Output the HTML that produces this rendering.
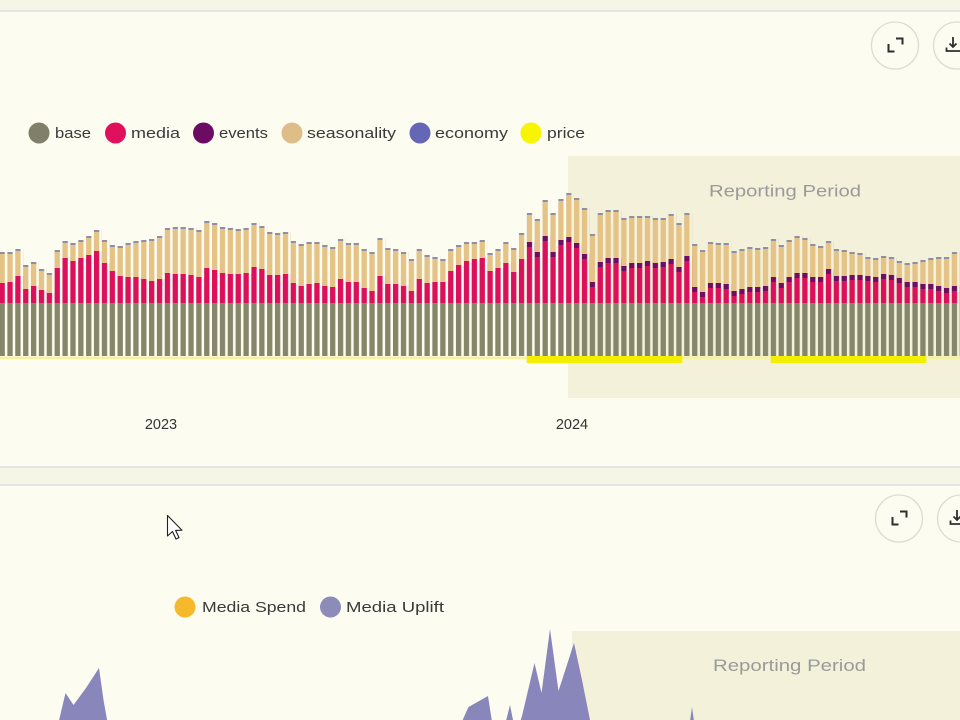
<!DOCTYPE html>
<html>
<head>
<meta charset="utf-8">
<style>
  html,body{margin:0;padding:0;background:#f6f6e7;}
  body{width:960px;height:720px;overflow:hidden;}
  svg{display:block;}
  text{font-family:"Liberation Sans",sans-serif;}
</style>
</head>
<body>
<svg width="960" height="720" viewBox="0 0 960 720" xmlns="http://www.w3.org/2000/svg" xmlns:xlink="http://www.w3.org/1999/xlink">
  <defs>
    <pattern id="stripes" patternUnits="userSpaceOnUse" x="-0.5" y="0" width="7.87" height="720">
      <rect x="0" y="0" width="5.3" height="720" fill="#ffffff"/>
    </pattern>
    <mask id="mk" maskUnits="userSpaceOnUse" x="-2" y="0" width="964" height="720">
      <rect x="-2" y="0" width="964" height="720" fill="url(#stripes)"/>
    </mask>
    <!-- total top (T) -->
    <path id="P" d="M-0.5 303V252h7.87V252h7.87V249h7.87V265h7.87V262h7.87V269h7.87V273h7.87V250h7.87V241h7.87V243h7.87V240h7.87V236h7.87V230h7.87V240h7.87V245h7.87V246h7.87V243h7.87V241h7.87V240h7.87V239h7.87V236h7.87V228h7.87V227h7.87V227h7.87V228h7.87V230h7.87V221h7.87V223h7.87V227h7.87V228h7.87V229h7.87V228h7.87V223h7.87V226h7.87V232h7.87V233h7.87V232h7.87V241h7.87V244h7.87V242h7.87V242h7.87V245h7.87V247h7.87V239h7.87V243h7.87V243h7.87V249h7.87V252h7.87V238h7.87V248h7.87V249h7.87V252h7.87V259h7.87V249h7.87V255h7.87V257h7.87V259h7.87V249h7.87V245h7.87V242h7.87V242h7.87V240h7.87V253h7.87V249h7.87V242h7.87V248h7.87V233h7.87V213h7.87V219h7.87V200h7.87V213h7.87V199h7.87V193h7.87V198h7.87V208h7.87V234h7.87V213h7.87V210h7.87V210h7.87V218h7.87V216h7.87V216h7.87V216h7.87V218h7.87V218h7.87V214h7.87V223h7.87V213h7.87V244h7.87V250h7.87V242h7.87V243h7.87V243h7.87V251h7.87V249h7.87V247h7.87V248h7.87V247h7.87V239h7.87V245h7.87V240h7.87V236h7.87V238h7.87V244h7.87V246h7.87V241h7.87V249h7.87V250h7.87V252h7.87V253h7.87V257h7.87V258h7.87V256h7.87V257h7.87V261h7.87V263h7.87V262h7.87V260h7.87V258h7.87V257h7.87V257h7.87V252h7.87V303Z"/>
    <!-- events top for bars 67-121 -->
    <path id="E" d="M526.79 303V242h7.87V252h7.87V236h7.87V252h7.87V240h7.87V237h7.87V243h7.87V254h7.87V282h7.87V262h7.87V258h7.87V258h7.87V266h7.87V263h7.87V263h7.87V261h7.87V263h7.87V262h7.87V259h7.87V267h7.87V256h7.87V287h7.87V292h7.87V283h7.87V283h7.87V284h7.87V291h7.87V289h7.87V287h7.87V287h7.87V286h7.87V277h7.87V283h7.87V277h7.87V273h7.87V273h7.87V277h7.87V277h7.87V269h7.87V276h7.87V276h7.87V275h7.87V275h7.87V276h7.87V277h7.87V274h7.87V275h7.87V278h7.87V282h7.87V282h7.87V284h7.87V284h7.87V286h7.87V288h7.87V286h7.87V303Z"/>
  </defs>

  <!-- page background -->
  <rect x="0" y="0" width="960" height="720" fill="#f6f6e7"/>
  <!-- card 1 -->
  <rect x="-2" y="11" width="964" height="456" fill="#fcfcf0" stroke="#d8d8de" stroke-width="1.2"/>
  <!-- card 2 -->
  <rect x="-2" y="485" width="964" height="245" fill="#fcfcf0" stroke="#d8d8de" stroke-width="1.2"/>

  <!-- card 1 buttons -->
  <circle cx="895" cy="45.5" r="23.5" fill="none" stroke="#dcdcd2" stroke-width="1.3"/>
  <path d="M896 38.5H902.5V44.5 M888.5 44V51.5H894.5" fill="none" stroke="#2e2e2e" stroke-width="2"/>
  <circle cx="957" cy="45.5" r="23.5" fill="none" stroke="#dcdcd2" stroke-width="1.3"/>
  <path d="M953 37v10 M949.5 43.5l3.5 3.5 3.5-3.5 M946.5 47.5v3.5h14" fill="none" stroke="#2e2e2e" stroke-width="1.8"/>

  <!-- legend 1 -->
  <circle cx="39" cy="133" r="10.5" fill="#7f7f6a"/>
  <text x="55" y="138" font-size="15" fill="#3a3a3a" textLength="36" lengthAdjust="spacingAndGlyphs">base</text>
  <circle cx="115.5" cy="133" r="10.5" fill="#e0105c"/>
  <text x="131" y="138" font-size="15" fill="#3a3a3a" textLength="49" lengthAdjust="spacingAndGlyphs">media</text>
  <circle cx="203.5" cy="133" r="10.5" fill="#6d0a63"/>
  <text x="219" y="138" font-size="15" fill="#3a3a3a" textLength="49" lengthAdjust="spacingAndGlyphs">events</text>
  <circle cx="292" cy="133" r="10.5" fill="#dfbd88"/>
  <text x="307" y="138" font-size="15" fill="#3a3a3a" textLength="89" lengthAdjust="spacingAndGlyphs">seasonality</text>
  <circle cx="420" cy="133" r="10.5" fill="#6666b6"/>
  <text x="435" y="138" font-size="15" fill="#3a3a3a" textLength="73" lengthAdjust="spacingAndGlyphs">economy</text>
  <circle cx="531" cy="133" r="10.5" fill="#f7f500"/>
  <text x="547" y="138" font-size="15" fill="#3a3a3a" textLength="38" lengthAdjust="spacingAndGlyphs">price</text>

  <!-- reporting period 1 -->
  <rect x="568" y="156" width="400" height="242" fill="#f3f1d9"/>
  <text x="709" y="196.5" font-size="17" fill="#9a9a9a" textLength="152" lengthAdjust="spacingAndGlyphs">Reporting Period</text>

  <!-- price bands -->
  <rect x="0" y="356.5" width="960" height="2.6" fill="#f6f39c"/>
  <rect x="526.79" y="356" width="155.5" height="7" fill="#f4ef00"/>
  <rect x="770.76" y="356" width="155.5" height="7" fill="#f4ef00"/>

  <!-- stacked bars -->
  <g mask="url(#mk)">
    <use href="#P" xlink:href="#P" fill="#8e8ea4"/>
    <use href="#P" xlink:href="#P" y="2" fill="#e5c386"/>
    <use href="#E" xlink:href="#E" fill="#6e0d62"/>
    <use href="#E" xlink:href="#E" y="5" fill="#dc0f5c"/>
    <path fill="#dc0f5c" d="M-0.5 303V283h7.87V282h7.87V276h7.87V289h7.87V286h7.87V290h7.87V293h7.87V268h7.87V258h7.87V261h7.87V258h7.87V255h7.87V251h7.87V263h7.87V271h7.87V276h7.87V277h7.87V277h7.87V279h7.87V281h7.87V279h7.87V273h7.87V274h7.87V274h7.87V275h7.87V277h7.87V268h7.87V270h7.87V273h7.87V274h7.87V274h7.87V273h7.87V267h7.87V269h7.87V275h7.87V275h7.87V274h7.87V283h7.87V286h7.87V284h7.87V283h7.87V286h7.87V287h7.87V279h7.87V282h7.87V282h7.87V288h7.87V291h7.87V276h7.87V284h7.87V284h7.87V286h7.87V291h7.87V279h7.87V283h7.87V282h7.87V282h7.87V271h7.87V265h7.87V261h7.87V259h7.87V258h7.87V271h7.87V268h7.87V263h7.87V272h7.87V259h7.87V303Z"/>
    <rect x="-0.5" y="303" width="961" height="53" fill="#86866a"/>
  </g>

  <!-- year labels -->
  <text x="161" y="429" font-size="14.5" fill="#333" text-anchor="middle">2023</text>
  <text x="572" y="429" font-size="14.5" fill="#333" text-anchor="middle">2024</text>

  <!-- card 2 buttons -->
  <circle cx="899" cy="518.5" r="23.5" fill="none" stroke="#dcdcd2" stroke-width="1.3"/>
  <path d="M900 511.5H906.5V517.5 M892.5 517V524.5H898.5" fill="none" stroke="#2e2e2e" stroke-width="2"/>
  <circle cx="961" cy="518.5" r="23.5" fill="none" stroke="#dcdcd2" stroke-width="1.3"/>
  <path d="M957 510v10 M953.5 516.5l3.5 3.5 3.5-3.5 M950.5 520.5v3.5h14" fill="none" stroke="#2e2e2e" stroke-width="1.8"/>

  <!-- cursor -->
  <path d="M167.5 515.5 L167.5 536 L172.5 531.5 L176 539 L179 537.6 L175.6 530.4 L182 530.2 Z" fill="#ffffff" stroke="#222" stroke-width="1.1" stroke-linejoin="round"/>

  <!-- legend 2 -->
  <circle cx="185" cy="607" r="10.5" fill="#f7b92c"/>
  <text x="202" y="612" font-size="15" fill="#3a3a3a" textLength="104" lengthAdjust="spacingAndGlyphs">Media Spend</text>
  <circle cx="330.5" cy="607" r="10.5" fill="#8d8bb8"/>
  <text x="346" y="612" font-size="15" fill="#3a3a3a" textLength="98" lengthAdjust="spacingAndGlyphs">Media Uplift</text>

  <!-- reporting period 2 -->
  <rect x="572" y="631" width="400" height="100" fill="#f3f1d9"/>
  <text x="713" y="671" font-size="17" fill="#9a9a9a" textLength="153" lengthAdjust="spacingAndGlyphs">Reporting Period</text>

  <!-- media uplift area -->
  <path fill="#8886bb" d="
    M58 725 L61 712 L65.5 693 L73.5 705 L86 688 L99 668 L103.5 700 L108 725 Z
    M461 725 L463.5 718 L468.5 707 L488 696 L491.7 720 L493 725 Z
    M505 725 L510 705 L514 725 Z
    M519 725 L522 716 L534.5 663 L541.5 693 L550 629 L558.5 691 L574 643 L582 680 L591 725 Z
    M689.5 725 L692 707 L694.5 725 Z"/>
</svg>
</body>
</html>
